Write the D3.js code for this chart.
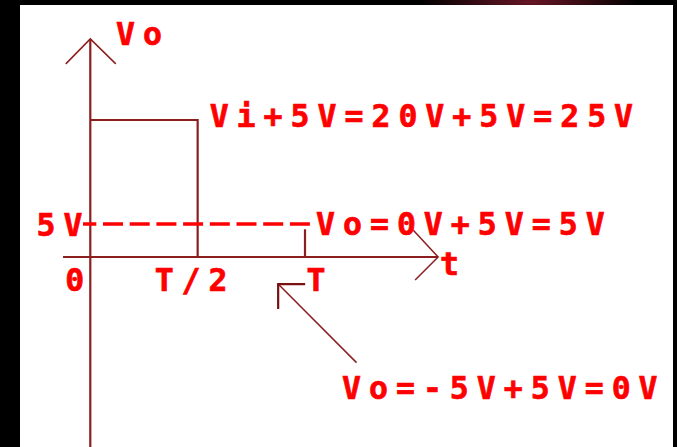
<!DOCTYPE html>
<html>
<head>
<meta charset="utf-8">
<script src="https://cdn.jsdelivr.net/npm/d3@7"></script>
<style>
  body { margin: 0; background: #000; }
  text { font-family: "DejaVu Sans Mono", monospace; font-weight: bold; font-size: 31.5px; letter-spacing: 8px; fill: #ff0000; stroke: #ff0000; stroke-width: 0.7px; }
</style>
</head>
<body>
<svg id="chart" width="677" height="447"></svg>
<script>
const width = 677, height = 447;

// Output waveform, t in periods, Vo in volts
const pulse = [[0, 25], [0.5, 25], [0.5, 0]];
const periodTick = [[1, 0], [1, 4.2]];
const clampLevel = 5;
const xTicks = [0, 0.5, 1];
const xTickLabels = ["0", "T/2", "T"];
const levelLabels = ["Vi+5V=20V+5V=25V", "5V", "Vo=0V+5V=5V", "Vo=-5V+5V=0V"];
const axisLabels = ["Vo", "t"];

const lineColor = "#8b1e1e";
const svg = d3.select("#chart");

// frame: black border with a dim red glow up top
const defs = svg.append("defs");
const glow = defs.append("radialGradient").attr("id", "glow");
glow.append("stop").attr("offset", "0%").attr("stop-color", "#6a1626");
glow.append("stop").attr("offset", "100%").attr("stop-color", "#000");
svg.append("rect").attr("width", width).attr("height", height).attr("fill", "#000");
svg.append("ellipse").attr("cx", 530).attr("cy", 2).attr("rx", 110).attr("ry", 14).attr("fill", "url(#glow)");
svg.append("rect").attr("x", 20).attr("y", 5).attr("width", 653).attr("height", height).attr("fill", "#fff");

const x = d3.scaleLinear().domain([0, 1]).range([90.3, 305]);
// schematic, not to scale: the 5V band is stretched
const y = d3.scaleLinear().domain([-30, 5, 25]).range([455, 224, 120]);

const line = d3.line().x(d => x(d[0])).y(d => y(d[1]));

// axes
svg.append("line")
  .attr("x1", x(0)).attr("x2", x(0))
  .attr("y1", y(-30)).attr("y2", y(40.6))
  .attr("stroke", lineColor).attr("stroke-width", 2.2);
svg.append("line")
  .attr("x1", x(-0.127)).attr("x2", x(1.62))
  .attr("y1", y(0)).attr("y2", y(0))
  .attr("stroke", lineColor).attr("stroke-width", 2.2);

// arrow heads
const yTip = [x(0), y(40.6)], xTip = [x(1.62), y(0)];
svg.append("path")
  .attr("d", `M${yTip[0] - 24.5},${yTip[1] + 25}L${yTip[0]},${yTip[1]}L${yTip[0] + 25.5},${yTip[1] + 25}`)
  .attr("fill", "none").attr("stroke", lineColor).attr("stroke-width", 1.5);
svg.append("path")
  .attr("d", `M${xTip[0] - 25},${xTip[1] - 27}L${xTip[0]},${xTip[1]}L${xTip[0] - 23},${xTip[1] + 23}`)
  .attr("fill", "none").attr("stroke", lineColor).attr("stroke-width", 1.5);

// waveform
svg.append("path").attr("d", line(pulse))
  .attr("fill", "none").attr("stroke", lineColor).attr("stroke-width", 2.2);
svg.append("path").attr("d", line(periodTick))
  .attr("fill", "none").attr("stroke", lineColor).attr("stroke-width", 2.2);

// 5V dashed level
svg.append("line")
  .attr("x1", 83).attr("x2", 310)
  .attr("y1", y(clampLevel)).attr("y2", y(clampLevel))
  .attr("stroke", "#ff0000").attr("stroke-width", 3.5)
  .attr("stroke-dasharray", "20,6.7").attr("stroke-dashoffset", 6.7);

// pointer to the 0V part of the cycle
const tip = [x(0.875), y(-4.1)], tail = [x(1.24), y(-16)];
svg.append("line")
  .attr("x1", tip[0]).attr("y1", tip[1]).attr("x2", tail[0]).attr("y2", tail[1])
  .attr("stroke", lineColor).attr("stroke-width", 1.5);
svg.append("path")
  .attr("d", `M${tip[0] + 27},${tip[1]}L${tip[0]},${tip[1]}L${tip[0]},${tip[1] + 25}`)
  .attr("fill", "none").attr("stroke", "#7a1010").attr("stroke-width", 2.2);

// tick labels
const tickDx = [-25, -43, 1.5];
svg.selectAll(".tick-label")
  .data(xTicks)
  .join("text")
  .attr("class", "tick-label")
  .attr("x", (d, i) => x(d) + tickDx[i])
  .attr("y", y(0) + 33.5)
  .text((d, i) => xTickLabels[i]);

// level labels
svg.append("text").attr("x", x(0.5) + 12).attr("y", y(25) + 7).text(levelLabels[0]);
svg.append("text").attr("x", 36.5).attr("y", y(clampLevel) + 12).text(levelLabels[1]);
svg.append("text").attr("x", 316).attr("y", y(clampLevel) + 11).text(levelLabels[2]);
svg.append("text").attr("x", 342).attr("y", y(-16) + 36).text(levelLabels[3]);

// axis names
svg.append("text").attr("x", 116).attr("y", 45).text(axisLabels[0]);
svg.append("text").attr("x", xTip[0] + 2).attr("y", y(0) + 18).text(axisLabels[1]);
</script>
</body>
</html>
